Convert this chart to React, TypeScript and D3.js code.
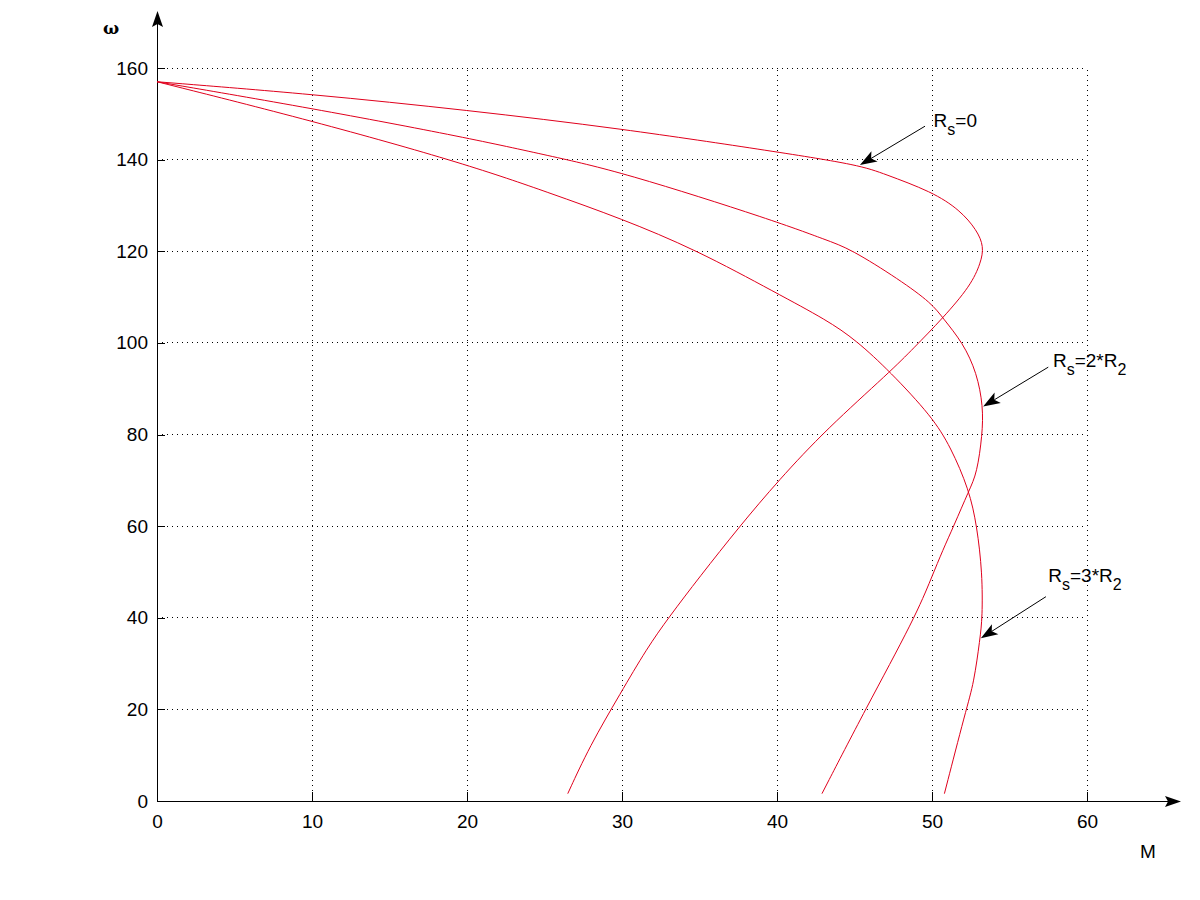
import React, { useEffect, useRef } from "react";
import * as d3 from "d3";

// Torque M vs angular speed ω
const curveRs0: [number, number][] = [
  [0, 157], [10, 154.3], [20, 150.8], [29.9, 146.8], [40, 141.7], [45.35, 138.8],
  [46.9, 136.9], [50, 133], [51.8, 129], [52.9, 124.6], [53.35, 121], [53.15, 117.5],
  [52.5, 112.5], [50.7, 105.4], [48.8, 98.8], [47.3, 93.7], [43.2, 81.2], [40.1, 70],
  [37.6, 60], [35, 48.9], [33, 40], [31.6, 33.3], [29.9, 23.5], [27.9, 11.9], [26.5, 1.6],
];
const curveRs2: [number, number][] = [
  [0, 157], [10, 151.2], [20, 144.8], [25.35, 140.8], [29.9, 137.4], [40, 126.5],
  [43.2, 122.4], [44.7, 120.6], [47.9, 113.8], [50, 108.6], [50.7, 105.4], [52, 100],
  [52.9, 93.4], [53.3, 86.1], [53.25, 80], [52.9, 71.5], [52.4, 67.9], [51.4, 60],
  [50.7, 54.8], [50, 49], [48.9, 40], [45.7, 20], [42.9, 1.6],
];
const curveRs3: [number, number][] = [
  [0, 157], [10, 148.5], [20, 139], [25.35, 132.7], [29.9, 127.2], [34.8, 120.3],
  [40, 110.8], [43.2, 105], [45.1, 100.6], [47.3, 93.7], [50, 83.9], [51.2, 77.3],
  [52.4, 67.9], [52.9, 60], [53.25, 49.7], [53.25, 40], [53.1, 35.5], [52.7, 25.7],
  [52.2, 20], [50.8, 1.6],
];
const xTicks = [0, 10, 20, 30, 40, 50, 60];
const yTicks = [0, 20, 40, 60, 80, 100, 120, 140, 160];

// annotation labels: text anchor, arrow start and arrow tip in data coords
const annotations = [
  { main: "R", sub1: "s", rest: "=0", sub2: "", text: [50.1, 147.1], from: [49.55, 147.3], tip: [45.35, 138.8] },
  { main: "R", sub1: "s", rest: "=2*R", sub2: "2", text: [57.8, 94.7], from: [57.5, 94.7], tip: [53.3, 86.1] },
  { main: "R", sub1: "s", rest: "=3*R", sub2: "2", text: [57.5, 47.8], from: [57.35, 44.6], tip: [53.15, 35.5] },
];

const FONT = "'Liberation Sans', Arial, Helvetica, sans-serif";

export default function App() {
  const ref = useRef<SVGSVGElement | null>(null);

  useEffect(() => {
    const svg = d3.select(ref.current);
    svg.selectAll("*").remove();

    const x = d3.scaleLinear().domain([0, 60]).range([157, 1087]);
    const y = d3.scaleLinear().domain([0, 160]).range([801, 68]);

    // grid
    const grid = svg.append("g");
    xTicks.filter((t) => t > 0).forEach((t) => {
      grid.append("line")
        .attr("x1", x(t)).attr("x2", x(t)).attr("y1", y(0)).attr("y2", y(160))
        .attr("stroke", "#000").attr("stroke-width", 1).attr("stroke-dasharray", "1,4")
        .attr("shape-rendering", "crispEdges");
    });
    yTicks.filter((t) => t > 0).forEach((t) => {
      grid.append("line")
        .attr("x1", x(0)).attr("x2", x(60)).attr("y1", y(t)).attr("y2", y(t))
        .attr("stroke", "#000").attr("stroke-width", 1).attr("stroke-dasharray", "1,4")
        .attr("shape-rendering", "crispEdges");
    });

    // axes
    const xAxis = d3.axisBottom(x).tickValues(xTicks).tickSize(-9).tickSizeOuter(0).tickPadding(14);
    const gx = svg.append("g").attr("transform", `translate(0,${y(0)})`).call(xAxis);
    gx.select(".domain").remove();
    gx.selectAll("text").attr("font-size", 19).attr("font-family", FONT).attr("fill", "#000");
    gx.selectAll("line").attr("shape-rendering", "crispEdges");

    const yAxis = d3.axisLeft(y).tickValues(yTicks).tickSize(-8).tickSizeOuter(0).tickPadding(9);
    const gy = svg.append("g").attr("transform", `translate(${x(0)},0)`).call(yAxis);
    gy.select(".domain").remove();
    gy.selectAll("text").attr("font-size", 19).attr("font-family", FONT).attr("fill", "#000");
    gy.selectAll("line").attr("shape-rendering", "crispEdges");

    // axis lines with arrows
    svg.append("line").attr("x1", x(0)).attr("x2", 1170).attr("y1", y(0)).attr("y2", y(0))
      .attr("stroke", "#000").attr("shape-rendering", "crispEdges");
    svg.append("polygon").attr("points", `1181,${y(0) + 0.5} 1165,${y(0) - 5} 1168,${y(0) + 0.5} 1165,${y(0) + 6}`)
      .attr("fill", "#000");
    svg.append("line").attr("x1", x(0)).attr("x2", x(0)).attr("y1", y(0)).attr("y2", 22)
      .attr("stroke", "#000").attr("shape-rendering", "crispEdges");
    svg.append("polygon").attr("points", `${x(0) + 0.5},11 ${x(0) - 5},27 ${x(0) + 0.5},24 ${x(0) + 6},27`)
      .attr("fill", "#000");

    // axis labels
    svg.append("text").attr("x", 1148).attr("y", 858).attr("text-anchor", "middle")
      .attr("font-size", 19).attr("font-family", FONT).text("M");
    svg.append("text").attr("x", 111).attr("y", 34).attr("text-anchor", "middle")
      .attr("font-size", 17).attr("font-weight", "bold").attr("font-family", "'DejaVu Serif', serif").text("ω");

    // curves
    const line = d3.line<[number, number]>()
      .x((d) => x(d[0])).y((d) => y(d[1]))
      .curve(d3.curveBasis);
    [curveRs0, curveRs2, curveRs3].forEach((c) => {
      svg.append("path").attr("d", line(c) as string)
        .attr("fill", "none").attr("stroke", "#e0001c").attr("stroke-width", 1);
    });

    // annotations
    annotations.forEach((a) => {
      const fx = x(a.from[0]), fy = y(a.from[1]);
      const tx = x(a.tip[0]), ty = y(a.tip[1]);
      const ang = Math.atan2(ty - fy, tx - fx);
      const L = 17, W = 6;
      const bx = tx - L * Math.cos(ang), by = ty - L * Math.sin(ang);
      const nx = tx - (L - 4) * Math.cos(ang), ny = ty - (L - 4) * Math.sin(ang);
      const px = -Math.sin(ang), py = Math.cos(ang);
      svg.append("line").attr("x1", fx).attr("y1", fy).attr("x2", nx).attr("y2", ny)
        .attr("stroke", "#000").attr("stroke-width", 1);
      svg.append("polygon")
        .attr("points", `${tx},${ty} ${bx + W * px},${by + W * py} ${nx},${ny} ${bx - W * px},${by - W * py}`)
        .attr("fill", "#000");
      const t = svg.append("text").attr("x", x(a.text[0])).attr("y", y(a.text[1]))
        .attr("font-size", 19).attr("font-family", FONT).attr("fill", "#000");
      t.append("tspan").text(a.main);
      t.append("tspan").attr("font-size", 16).attr("dy", 8).text(a.sub1);
      t.append("tspan").attr("dy", -8).text(a.rest);
      if (a.sub2) t.append("tspan").attr("font-size", 16).attr("dy", 8).text(a.sub2);
    });
  }, []);

  return (
    <svg
      ref={ref}
      width={1200}
      height={900}
      style={{ position: "absolute", left: 0, top: 0, background: "#fff" }}
    />
  );
}
